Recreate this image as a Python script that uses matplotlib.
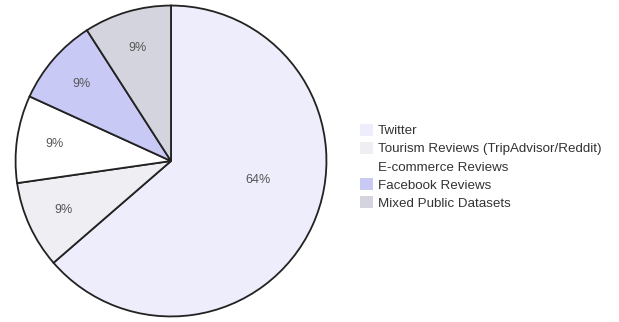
import numpy as np
import matplotlib
matplotlib.use("Agg")
import matplotlib.pyplot as plt
from matplotlib.patches import Patch

plt.rcParams["font.family"] = ["Liberation Sans", "DejaVu Sans"]

labels = ["Twitter", "Tourism Reviews (TripAdvisor/Reddit)", "E-commerce Reviews",
          "Facebook Reviews", "Mixed Public Datasets"]
values = [7, 1, 1, 1, 1]
colors = ["#EDEDFB", "#EEEEF3", "#FFFFFF", "#C9C9F6", "#D4D4DE"]

fig = plt.figure(figsize=(6.19, 3.22), dpi=100)
ax = fig.add_axes([14 / 619, 4 / 322, 314 / 619, 314 / 322])
wedges, texts, autotexts = ax.pie(
    values, colors=colors, startangle=90, counterclock=False,
    autopct=lambda p: f"{p:.0f}%", pctdistance=0.76,
    wedgeprops=dict(edgecolor="#222222", linewidth=1.3),
    textprops=dict(color="#555555", fontsize=9))
# large slice label sits closer to centre
autotexts[0].set_position((0.56, -0.12))
ax.set_xlim(-1.01, 1.01); ax.set_ylim(-1.01, 1.01)
ax.set_aspect("equal")

handles = [Patch(facecolor=c, edgecolor="none", label=l) for c, l in zip(colors, labels)]
fig.legend(handles=handles, loc="upper left", bbox_to_anchor=(353 / 619, 1 - 117 / 322),
           frameon=False, fontsize=9.6, handlelength=1.0, handleheight=1.0,
           handletextpad=0.35, labelspacing=0.35, borderpad=0, labelcolor="#333333")

fig.savefig("out.png", dpi=100, facecolor="white")
